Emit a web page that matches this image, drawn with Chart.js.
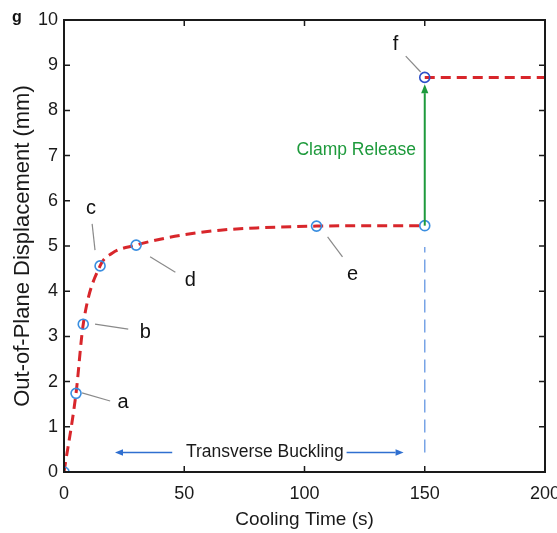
<!DOCTYPE html>
<html>
<head>
<meta charset="utf-8">
<script src="https://cdn.jsdelivr.net/npm/chart.js@4.4.1/dist/chart.umd.min.js"></script>
<style>
  html, body { margin: 0; padding: 0; background: #fff; }
  #wrap { width: 557px; height: 533px; position: relative; }
</style>
</head>
<body>
<div id="wrap"><canvas id="chart"></canvas></div>
<script>
// ─── data ───
const curveTime = [0, 5, 8, 15, 20, 30, 40, 50, 65, 80, 105, 130, 150];
const curveDisp = [0, 1.74, 3.27, 4.56, 4.84, 5.02, 5.15, 5.25, 5.35, 5.40, 5.44, 5.45, 5.45];

const releaseTime = [150, 200];
const releaseDisp = [8.73, 8.73];

const markerTime = [0, 5, 8, 15, 30, 105, 150];
const markerDisp = [0, 1.74, 3.27, 4.56, 5.02, 5.44, 5.45];
const fTime = [150];
const fDisp = [8.73];

const xTicks = [0, 50, 100, 150, 200];
const yTicks = [0, 1, 2, 3, 4, 5, 6, 7, 8, 9, 10];

// point labels: letter, letter pos, leader start, leader end (data units)
const pointLabels = [
  ['a', [24.6, 1.53], [7.5, 1.75], [19.2, 1.57]],
  ['b', [33.8, 3.08], [12.9, 3.27], [26.7, 3.16]],
  ['c', [11.2, 5.84], [11.7, 5.49], [12.9, 4.91]],
  ['d', [52.5, 4.23], [35.8, 4.76], [46.3, 4.42]],
  ['e', [120.0, 4.38], [109.6, 5.20], [115.8, 4.76]],
  ['f', [137.9, 9.45], [142.1, 9.20], [148.3, 8.85]],
];

const FONT = "'Liberation Sans', Arial, Helvetica, sans-serif";
const RED = '#d8262b';
const BLUE = '#3a8ee0';

const pts = (xs, ys) => xs.map((x, i) => ({ x, y: ys[i] }));

function arrow(ctx, x1, y1, x2, y2, color, head) {
  const ang = Math.atan2(y2 - y1, x2 - x1);
  const bx = x2 - head * Math.cos(ang), by = y2 - head * Math.sin(ang);
  ctx.strokeStyle = color;
  ctx.fillStyle = color;
  ctx.beginPath();
  ctx.moveTo(x1, y1);
  ctx.lineTo(bx, by);
  ctx.stroke();
  ctx.beginPath();
  ctx.moveTo(x2, y2);
  ctx.lineTo(bx + head * 0.4 * Math.sin(ang), by - head * 0.4 * Math.cos(ang));
  ctx.lineTo(bx - head * 0.4 * Math.sin(ang), by + head * 0.4 * Math.cos(ang));
  ctx.closePath();
  ctx.fill();
}

const decorPlugin = {
  id: 'decor',
  afterDatasetsDraw(chart) {
    const { ctx, chartArea: a, scales: { x, y } } = chart;
    ctx.save();
    // box
    ctx.strokeStyle = '#1a1a1a';
    ctx.lineWidth = 2;
    ctx.strokeRect(a.left, a.top, a.right - a.left, a.bottom - a.top);
    // inner ticks on all sides
    ctx.lineWidth = 1.5;
    ctx.beginPath();
    xTicks.forEach(v => {
      const px = x.getPixelForValue(v);
      ctx.moveTo(px, a.bottom); ctx.lineTo(px, a.bottom - 6);
      ctx.moveTo(px, a.top); ctx.lineTo(px, a.top + 6);
    });
    yTicks.forEach(v => {
      const py = y.getPixelForValue(v);
      ctx.moveTo(a.left, py); ctx.lineTo(a.left + 6, py);
      ctx.moveTo(a.right, py); ctx.lineTo(a.right - 6, py);
    });
    ctx.stroke();

    // leaders and letters
    ctx.font = `20px ${FONT}`;
    ctx.textAlign = 'center';
    ctx.textBaseline = 'middle';
    pointLabels.forEach(([t, pos, s, e]) => {
      ctx.strokeStyle = '#8a8a8a';
      ctx.lineWidth = 1.2;
      ctx.beginPath();
      ctx.moveTo(x.getPixelForValue(s[0]), y.getPixelForValue(s[1]));
      ctx.lineTo(x.getPixelForValue(e[0]), y.getPixelForValue(e[1]));
      ctx.stroke();
      ctx.fillStyle = '#111';
      ctx.fillText(t, x.getPixelForValue(pos[0]), y.getPixelForValue(pos[1]));
    });

    // clamp release arrow
    ctx.lineWidth = 2;
    arrow(ctx, x.getPixelForValue(150), y.getPixelForValue(5.45),
      x.getPixelForValue(150), y.getPixelForValue(8.58), '#1e9a3c', 9);
    ctx.fillStyle = '#1e9a3c';
    ctx.font = `17.5px ${FONT}`;
    ctx.fillText('Clamp Release', x.getPixelForValue(121.5), y.getPixelForValue(7.12));

    // transverse buckling arrows
    ctx.lineWidth = 1.5;
    arrow(ctx, x.getPixelForValue(45), y.getPixelForValue(0.43),
      x.getPixelForValue(21.2), y.getPixelForValue(0.43), '#2f6fd0', 8);
    arrow(ctx, x.getPixelForValue(117.5), y.getPixelForValue(0.43),
      x.getPixelForValue(141.2), y.getPixelForValue(0.43), '#2f6fd0', 8);
    ctx.fillStyle = '#1a1a1a';
    ctx.fillText('Transverse Buckling', x.getPixelForValue(83.5), y.getPixelForValue(0.43));

    // panel letter
    ctx.font = `bold 16px ${FONT}`;
    ctx.fillStyle = '#111';
    ctx.fillText('g', 17, 18);
    ctx.restore();
  }
};

new Chart(document.getElementById('chart'), {
  type: 'scatter',
  data: {
    datasets: [
      {
        data: pts(markerTime, markerDisp),
        showLine: false,
        pointRadius: 5,
        pointBorderWidth: 1.6,
        pointBorderColor: BLUE,
        pointBackgroundColor: 'rgba(0,0,0,0)',
        order: 0,
      },
      {
        data: pts(fTime, fDisp),
        showLine: false,
        pointRadius: 5,
        pointBorderWidth: 1.6,
        pointBorderColor: '#2d4fc8',
        pointBackgroundColor: 'rgba(0,0,0,0)',
        order: 0,
      },
      {
        data: pts(curveTime, curveDisp),
        showLine: true,
        cubicInterpolationMode: 'monotone',
        borderColor: RED,
        borderWidth: 3,
        borderDash: [10, 6],
        pointRadius: 0,
        order: 1,
      },
      {
        data: pts(releaseTime, releaseDisp),
        showLine: true,
        borderColor: RED,
        borderWidth: 3,
        borderDash: [10, 6],
        pointRadius: 0,
        order: 1,
      },
      {
        data: [{ x: 150, y: 0.43 }, { x: 150, y: 4.98 }],
        showLine: true,
        borderColor: '#78a4e6',
        borderWidth: 1.5,
        borderDash: [13, 7],
        pointRadius: 0,
        order: 2,
      },
    ]
  },
  options: {
    responsive: true,
    maintainAspectRatio: false,
    animation: false,
    layout: { padding: { top: 20, right: 12, left: 0, bottom: 0 } },
    plugins: { legend: { display: false }, tooltip: { enabled: false } },
    scales: {
      x: {
        type: 'linear',
        min: 0, max: 200,
        grid: { display: false, drawTicks: false },
        border: { display: false },
        ticks: { stepSize: 50, color: '#1a1a1a', padding: 11, font: { size: 18, family: FONT } },
        title: { display: true, text: 'Cooling Time (s)', color: '#1a1a1a', padding: { top: 0, bottom: 2 }, font: { size: 19, family: FONT } },
        afterFit: s => { s.height = 61; s.paddingLeft = 0; s.paddingRight = 0; },
      },
      y: {
        min: 0, max: 10,
        grid: { display: false, drawTicks: false },
        border: { display: false },
        ticks: { stepSize: 1, color: '#1a1a1a', padding: 6, font: { size: 18, family: FONT } },
        title: { display: true, text: 'Out-of-Plane Displacement (mm)', color: '#1a1a1a', padding: { top: 10, bottom: 0 }, font: { size: 22, family: FONT } },
        afterFit: s => { s.width = 64; s.paddingTop = 0; s.paddingBottom = 0; },
      }
    }
  },
  plugins: [decorPlugin]
});
</script>
</body>
</html>
